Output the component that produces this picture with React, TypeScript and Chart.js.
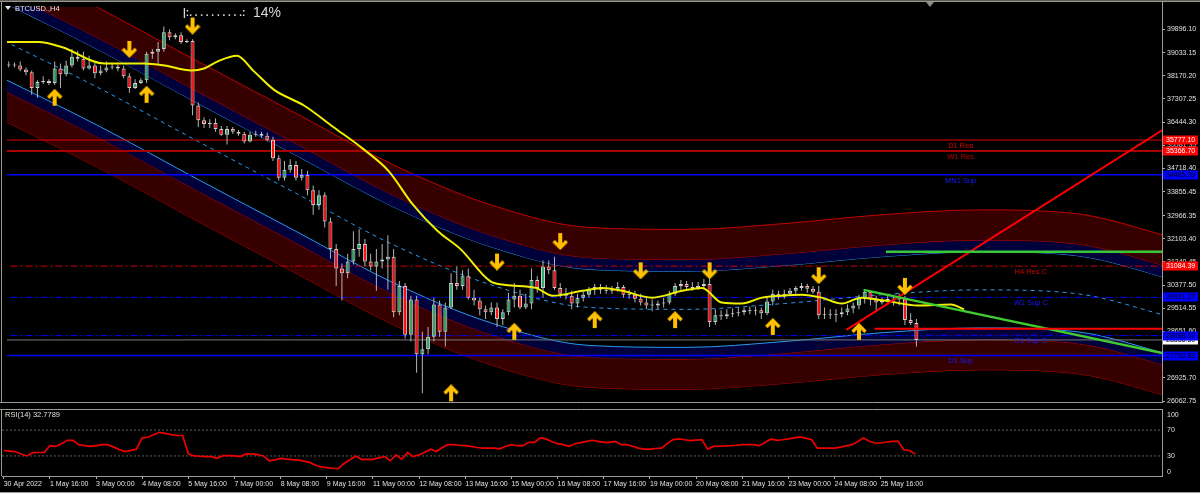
import React, { useEffect, useRef } from "react";
import { Chart, registerables } from "chart.js";

Chart.register(...registerables);

const FONT = "'Liberation Sans', Arial, sans-serif";

// ---------------- DATA ----------------
const opens = [
  38553, 38589, 38553, 38408, 38299, 37718, 37935, 37972, 37899, 38444,
  38226, 38553, 38880, 38807, 38444, 38553, 38262, 38371, 38480, 38517,
  38444, 38153, 37718, 37899, 38008, 38989, 39061, 39170, 39787, 39606,
  39678, 39424, 39461, 37064, 36519, 36374, 36411, 36193, 35975, 36193,
  36084, 36011, 35721, 35975, 36011, 35939, 35793, 35103, 34377, 34668,
  34849, 34377, 34486, 33905, 33361, 33724, 32743, 31726, 31000, 30819,
  31255, 31726, 31908, 31255, 31073, 31255, 31327, 31436, 29366, 30347,
  28531, 29838, 27805, 27987, 28459, 29657, 28640, 29548, 30456, 30347,
  30710, 29911, 29802, 29475, 29366, 29548, 29112, 29366, 29838, 29983,
  29548, 29693, 30565, 30274, 31073, 30928, 30274, 30056, 29983, 29693,
  29911, 30020, 30201, 30310, 30201, 30165, 30201, 30310, 30020, 30020,
  29874, 29729, 29620, 29620, 29693, 29729, 30056, 30347, 30419, 30310,
  30274, 30347, 30419, 29003, 29257, 29221, 29294, 29330, 29366, 29439,
  29403, 29439, 29330, 29766, 30056, 29947, 30056, 30165, 30274, 30347,
  30238, 30129, 29257, 29294, 29257, 29294, 29366, 29511, 29620, 29911,
  30129, 29838, 29729, 29802, 29874, 29838, 29874, 29076, 28967,
];
const highs = [
  38698, 38662, 38698, 38480, 38371, 38008, 38153, 38044, 38698, 38625,
  38734, 39170, 39098, 39061, 38916, 38698, 38553, 38698, 38625, 38589,
  38553, 38262, 38044, 38081, 39061, 39170, 39424, 40005, 39896, 39751,
  39787, 39533, 39533, 37173, 36628, 36556, 36592, 36302, 36302, 36265,
  36156, 36084, 36084, 36120, 36084, 36048, 35902, 35212, 34994, 35067,
  34994, 34704, 34631, 34087, 33905, 33832, 32888, 31908, 31182, 31545,
  32380, 32453, 32090, 31545, 31726, 31908, 32235, 31726, 30528, 30456,
  29983, 29983, 28640, 28822, 29911, 29802, 29729, 30819, 31073, 30928,
  31000, 30201, 29911, 29620, 29729, 29729, 29475, 30092, 30456, 30201,
  30056, 31000, 30710, 31291, 31291, 31436, 30456, 30274, 30165, 30056,
  30129, 30310, 30419, 30419, 30383, 30347, 30492, 30383, 30201, 30165,
  30056, 29911, 29838, 29802, 29911, 30165, 30456, 30565, 30528, 30492,
  30492, 30601, 30637, 29475, 29439, 29475, 29511, 29548, 29548, 29584,
  29584, 29548, 29911, 30201, 30165, 30201, 30274, 30347, 30456, 30419,
  30347, 30347, 29548, 29475, 29475, 29548, 29657, 29729, 30020, 30201,
  30165, 29983, 29911, 29983, 30020, 30056, 29983, 29330, 29112,
];
const lows = [
  38480, 38480, 38335, 38190, 37463, 37354, 37863, 37827, 37827, 37718,
  38153, 38480, 38698, 38371, 38408, 38081, 38190, 38299, 38408, 38335,
  38081, 37536, 37681, 37863, 37899, 38807, 38625, 39061, 39497, 39533,
  39352, 39388, 36701, 36265, 36229, 36229, 36084, 35939, 35612, 36011,
  35939, 35648, 35684, 35902, 35866, 35721, 34994, 34268, 34268, 34559,
  34268, 34268, 33724, 32997, 33179, 32525, 31363, 30347, 29802, 30637,
  31146, 31436, 31073, 30928, 30165, 31000, 30201, 29185, 29257, 28386,
  28277, 27115, 26351, 27805, 28277, 28459, 28096, 29475, 30201, 30201,
  29838, 29620, 29257, 29112, 29257, 28822, 28894, 29257, 29548, 29475,
  29475, 29475, 30092, 29911, 30782, 30201, 29911, 29838, 29475, 29548,
  29766, 29911, 30020, 30056, 30056, 30056, 30129, 29911, 29874, 29729,
  29620, 29475, 29403, 29475, 29548, 29657, 29983, 30201, 30201, 30165,
  30201, 30274, 28822, 28894, 29076, 29112, 29185, 29221, 29257, 29294,
  29257, 29112, 29257, 29620, 29838, 29874, 29983, 30056, 30165, 30092,
  30056, 29112, 29112, 29112, 29003, 29185, 29257, 29330, 29475, 29693,
  29620, 29439, 29657, 29729, 29620, 29620, 28894, 28894, 28096,
];
const closes = [
  38589, 38553, 38408, 38299, 37718, 37935, 37972, 37899, 38444, 38226,
  38553, 38880, 38807, 38444, 38553, 38262, 38371, 38480, 38517, 38444,
  38153, 37718, 37899, 38008, 38989, 39061, 39170, 39787, 39606, 39678,
  39424, 39461, 37064, 36519, 36374, 36411, 36193, 35975, 36193, 36084,
  36011, 35721, 35975, 36011, 35939, 35793, 35103, 34377, 34668, 34849,
  34377, 34486, 33905, 33361, 33724, 32743, 31726, 31000, 30819, 31255,
  31726, 31908, 31255, 31073, 31255, 31327, 31436, 29366, 30347, 28531,
  29838, 27805, 27987, 28459, 29657, 28640, 29548, 30456, 30347, 30710,
  29911, 29802, 29475, 29366, 29548, 29112, 29366, 29838, 29983, 29548,
  29693, 30565, 30274, 31073, 30928, 30274, 30056, 29983, 29693, 29911,
  30020, 30201, 30310, 30201, 30165, 30201, 30310, 30020, 30020, 29874,
  29729, 29620, 29620, 29693, 29729, 30056, 30347, 30419, 30310, 30274,
  30347, 30419, 29003, 29257, 29221, 29294, 29330, 29366, 29439, 29403,
  29439, 29330, 29766, 30056, 29947, 30056, 30165, 30274, 30347, 30238,
  30129, 29257, 29294, 29257, 29294, 29366, 29511, 29620, 29911, 30129,
  29838, 29729, 29802, 29874, 29838, 29874, 29076, 28967, 28336.5,
];
const rsiValues = [
  38.4, 37.5, 36.8, 33, 30, 35, 35.3, 35.3, 45.8, 44.7,
  49, 54.2, 54.2, 47.4, 46, 44.7, 46, 47.4, 47.4, 44,
  40, 36.8, 38.5, 40.5, 57.9, 58.9, 63, 66.5, 65, 63,
  61.6, 61.6, 33.2, 30, 29.5, 29, 29, 26.3, 30.5, 30.5,
  30, 29, 33.2, 33.2, 32, 30, 22.6, 24, 26.3, 25,
  24.2, 23.9, 22, 20, 16, 13, 12, 11, 10.5, 18.4,
  24, 30, 24.7, 24.7, 24.7, 27, 28.9, 22.6, 31.6, 24.7,
  35.3, 28.9, 31.6, 36, 40.5, 36.8, 43, 47.4, 47.4, 46.5,
  45.8, 44.7, 43, 42.1, 42.1, 42.1, 41.1, 45, 47.4, 45.8,
  45.8, 51.1, 51.1, 57.9, 56.3, 52, 48.9, 47.4, 44.7, 48.9,
  50.5, 52.6, 54.2, 52.6, 51.1, 51.1, 52.6, 47.4, 47.4, 45,
  42.1, 40.5, 40.5, 41.5, 42.1, 49, 55.3, 56.3, 55, 53.7,
  54.5, 55.3, 40.5, 44.7, 45, 45.5, 45.8, 46.5, 47.4, 47.4,
  47.4, 45.8, 51, 56.3, 54.2, 55, 56.3, 58, 59.5, 57.5,
  55.3, 42.1, 42.1, 42.1, 42.1, 43.5, 45.5, 47.4, 52, 57.9,
  52.6, 50, 50, 51.5, 52.6, 52.6, 39.5, 38.4, 32.78,
];
const rsiCaption = "RSI(14) 32.7789";

const timeLabelIdx = [0, 8, 16, 24, 32, 40, 48, 56, 64, 72, 80, 88, 96, 104, 112, 120, 128, 136, 144, 152];
const timeLabels = [
  "30 Apr 2022", "1 May 16:00", "3 May 00:00", "4 May 08:00", "5 May 16:00", "7 May 00:00",
  "8 May 08:00", "9 May 16:00", "11 May 00:00", "12 May 08:00", "13 May 16:00", "15 May 00:00",
  "16 May 08:00", "17 May 16:00", "19 May 00:00", "20 May 08:00", "21 May 16:00", "23 May 00:00",
  "24 May 08:00", "25 May 16:00",
];
const priceTicks = [
  39896.1, 39033.15, 38170.2, 37307.25, 36444.3, 35581.35, 34718.4, 33855.45, 32966.35,
  32103.4, 31240.45, 30377.5, 29514.55, 28651.6, 27788.65, 26925.7, 26062.75,
];
const rsiTicks = [100, 70, 30, 0];
const rsiLevels = [70, 30];

// regression channel: centre line samples and band half-widths
const channelIdx = [-2, 16, 33, 50, 67, 84, 101, 118, 135, 152, 169, 186, 203];
const channelMid = [39600, 37681, 35721, 33796, 31872, 30383, 29548, 29475, 29693, 30020, 30201, 30056, 29150];
const channelOffsets = [2977, 1852, 1416];

// yellow moving average
const maIdx = [-0.6, 5.1, 9.2, 16.7, 23.6, 27.1, 31.8, 34, 36.3, 39.7, 42.7, 46.2, 51.4, 56.5, 61.8, 66.1, 70.4, 74.7, 78.6, 83.8, 86.5, 91.7, 94.7, 99.9, 103.4, 106.8, 112, 117.2, 120.7, 124.1, 127.6, 131.1, 134.5, 138, 141.5, 145, 148.4, 152.4, 158.3, 164, 166.3];
const maVal = [39424, 39424, 39243, 38625, 38625, 38553, 38371, 38444, 38698, 38916, 38335, 37645, 37064, 36265, 35430, 34631, 33361, 32380, 31726, 30528, 30383, 30274, 29983, 30165, 30274, 30165, 29911, 30165, 30274, 29729, 29693, 29911, 29983, 30020, 29911, 29693, 29911, 29802, 29620, 29657, 29475];

// arrows
const upArrowIdx = [8, 24, 77, 88, 102, 116, 133, 148];
const upArrowPrice = [37354, 37463, 26351, 28640, 29076, 29076, 28822, 28640];
const downArrowIdx = [21, 32, 85, 96, 110, 122, 141, 156];
const downArrowPrice = [39170, 40042, 31255, 32017, 30928, 30928, 30745, 30347];

// support / resistance levels
const levelNames = ["D1 Res", "W1 Res", "MN1 Sup", "H4 Res C", "W1 Sup C", "D1 Sup C", "D1 Sup"];
const levelPrices = [35777.1, 35366.7, 34485.99, 31084.39, 29921.27, 28498.37, 27753.83];
const levelLabelIdx = [165.7, 165.7, 165.7, 177.9, 177.9, 177.9, 165.7];
const bidPrice = 28336.5;

// price tags on the axis
const tagPrices = [35777.1, 35366.7, 34485.99, 31084.39, 29921.27, 28336.5, 28498.37, 27753.83];

// trend lines
const greenHLine = { from: 152.7, to: 201, price: 31618 };
const redHLine = { from: 150.7, to: 201, price: 28749 };
const greenTrend = { x1: 148.8, p1: 30201, x2: 201, p2: 27841 };
const redTrend = { x1: 145.8, p1: 28713, x2: 200.9, p2: 36156 };

// ---------------- SCALE SETUP ----------------
const X_MIN = -0.3;
const X_MAX = 200.75;
const P_MIN = 26025.7;
const P_MAX = 40731.2;

const RED_LINE = "#c00000";
const DARK_RED = "#360000";
const NAVY = "#00003a";
const LIGHT_BLUE = "#2a98ee";

function makeArrow(up: boolean): HTMLCanvasElement {
  const c = document.createElement("canvas");
  c.width = 16;
  c.height = 18;
  const g = c.getContext("2d")!;
  g.save();
  if (up) {
    g.translate(0, 18);
    g.scale(1, -1);
  }
  g.fillStyle = "#ffc000";
  g.strokeStyle = "#ffc000";
  g.fillRect(6, 1, 4, 13);
  g.lineWidth = 3.4;
  g.lineCap = "butt";
  g.lineJoin = "miter";
  g.beginPath();
  g.moveTo(1.5, 9);
  g.lineTo(8, 15.5);
  g.lineTo(14.5, 9);
  g.stroke();
  g.restore();
  return c;
}

function hline(price: number, from = X_MIN - 2, to = X_MAX + 2) {
  return [
    { x: from, y: price },
    { x: to, y: price },
  ];
}

export default function App() {
  const priceRef = useRef<HTMLCanvasElement>(null);
  const rsiRef = useRef<HTMLCanvasElement>(null);

  useEffect(() => {
    const upImg = makeArrow(true);
    const downImg = makeArrow(false);

    const bandSpecs = [
      { off: channelOffsets[0], color: RED_LINE, fill: "+1", bg: DARK_RED, dash: [] as number[] },
      { off: channelOffsets[1], color: RED_LINE, fill: "+1", bg: NAVY, dash: [] },
      { off: channelOffsets[2], color: LIGHT_BLUE, fill: false, bg: "transparent", dash: [] },
      { off: 0, color: LIGHT_BLUE, fill: false, bg: "transparent", dash: [4, 4] },
      { off: -channelOffsets[2], color: LIGHT_BLUE, fill: "+1", bg: NAVY, dash: [] },
      { off: -channelOffsets[1], color: RED_LINE, fill: "+1", bg: DARK_RED, dash: [] },
      { off: -channelOffsets[0], color: RED_LINE, fill: false, bg: "transparent", dash: [] },
    ];
    const bandDatasets = bandSpecs.map((b) => ({
      type: "line",
      data: channelIdx.map((x, k) => ({ x, y: channelMid[k] + b.off })),
      borderColor: b.color,
      borderWidth: 1,
      borderDash: b.dash,
      backgroundColor: b.bg,
      fill: b.fill,
      pointRadius: 0,
      cubicInterpolationMode: "monotone",
      order: 20,
    }));

    const levelStyles = [
      { color: "#e00000", width: 1, dash: [] as number[] },
      { color: "#a80000", width: 2, dash: [] },
      { color: "#0000ff", width: 1.5, dash: [] },
      { color: "#d00000", width: 1, dash: [7, 3, 2, 3] },
      { color: "#0000ff", width: 1, dash: [7, 3, 2, 3] },
      { color: "#0000ff", width: 1, dash: [7, 3, 2, 3] },
      { color: "#0000ff", width: 1.5, dash: [] },
    ];
    const levelDatasets = levelPrices.map((p, k) => ({
      type: "line",
      data: hline(p),
      borderColor: levelStyles[k].color,
      borderWidth: levelStyles[k].width,
      borderDash: levelStyles[k].dash,
      pointRadius: 0,
      fill: false,
      order: 15,
    }));

    const idx = closes.map((_, i) => i);
    const bodyColors = idx.map((i) => (closes[i] >= opens[i] ? "#34a86a" : "#ff1010"));

    const datasets: any[] = [
      ...bandDatasets,
      ...levelDatasets,
      {
        type: "line",
        data: hline(bidPrice),
        borderColor: "#787878",
        borderWidth: 1,
        pointRadius: 0,
        order: 14,
      },
      {
        type: "bar",
        data: idx.map((i) => ({ x: i, y: [lows[i], highs[i]] })),
        backgroundColor: "#b4b4b4",
        borderWidth: 0,
        grouped: false,
        maxBarThickness: 1,
        order: 6,
      },
      {
        type: "bar",
        data: idx.map((i) => ({ x: i, y: [opens[i], closes[i]] })),
        backgroundColor: bodyColors,
        borderColor: "#cfcfcf",
        borderWidth: 1,
        borderSkipped: false,
        grouped: false,
        maxBarThickness: 4,
        minBarLength: 1,
        order: 5,
      },
      {
        type: "line",
        data: maIdx.map((x, k) => ({ x, y: maVal[k] })),
        borderColor: "#f0f000",
        borderWidth: 2,
        pointRadius: 0,
        cubicInterpolationMode: "monotone",
        order: 4,
      },
      {
        type: "line",
        data: hline(greenHLine.price, greenHLine.from, greenHLine.to),
        borderColor: "#38c838",
        borderWidth: 2.5,
        pointRadius: 0,
        order: 3,
      },
      {
        type: "line",
        data: hline(redHLine.price, redHLine.from, redHLine.to),
        borderColor: "#ff0000",
        borderWidth: 2,
        pointRadius: 0,
        order: 3,
      },
      {
        type: "line",
        data: [
          { x: greenTrend.x1, y: greenTrend.p1 },
          { x: greenTrend.x2, y: greenTrend.p2 },
        ],
        borderColor: "#40cc30",
        borderWidth: 2.5,
        pointRadius: 0,
        order: 3,
      },
      {
        type: "line",
        data: [
          { x: redTrend.x1, y: redTrend.p1 },
          { x: redTrend.x2, y: redTrend.p2 },
        ],
        borderColor: "#ff0000",
        borderWidth: 2,
        pointRadius: 0,
        order: 3,
      },
      {
        type: "line",
        data: upArrowIdx.map((x, k) => ({ x, y: upArrowPrice[k] })),
        showLine: false,
        pointStyle: upImg,
        pointRadius: 6,
        order: 1,
      },
      {
        type: "line",
        data: downArrowIdx.map((x, k) => ({ x, y: downArrowPrice[k] })),
        showLine: false,
        pointStyle: downImg,
        pointRadius: 6,
        order: 1,
      },
    ];

    const levelTextColors = ["#e00000", "#c00000", "#1a1aff", "#d00000", "#1a1aff", "#1a1aff", "#1a1aff"];
    const tagFill = ["#ff0000", "#ff0000", "#0000ff", "#ff0000", "#0000ff", "#ffffff", "#0000ff", "#0000ff"];
    const tagText = ["#ffffff", "#ffffff", "#000000", "#ffffff", "#000000", "#000000", "#000000", "#000000"];

    const priceOverlay = {
      id: "priceOverlay",
      afterDatasetsDraw(chart: any) {
        const { ctx, scales } = chart;
        const x = scales.x;
        const y = scales.y;
        ctx.save();
        ctx.font = `7.5px ${FONT}`;
        ctx.textAlign = "center";
        ctx.textBaseline = "top";
        levelNames.forEach((name, k) => {
          ctx.fillStyle = levelTextColors[k];
          ctx.fillText(name, x.getPixelForValue(levelLabelIdx[k]), y.getPixelForValue(levelPrices[k]) + 2);
        });
        ctx.restore();
      },
      afterDraw(chart: any) {
        const { ctx, chartArea, scales } = chart;
        const y = scales.y;
        ctx.save();
        ctx.lineWidth = 1;
        ctx.strokeStyle = "#5c5c54";
        ctx.beginPath();
        ctx.moveTo(0, 0.5);
        ctx.lineTo(1200, 0.5);
        ctx.stroke();
        ctx.strokeStyle = "#9a9a90";
        ctx.beginPath();
        ctx.moveTo(0, 1.5);
        ctx.lineTo(1200, 1.5);
        ctx.moveTo(1.5, 1);
        ctx.lineTo(1.5, chartArea.bottom);
        ctx.moveTo(0, chartArea.bottom + 0.5);
        ctx.lineTo(chartArea.right + 1, chartArea.bottom + 0.5);
        ctx.moveTo(chartArea.right + 0.5, 1);
        ctx.lineTo(chartArea.right + 0.5, chartArea.bottom + 1);
        ctx.stroke();
        ctx.font = `7px ${FONT}`;
        ctx.textAlign = "left";
        ctx.textBaseline = "middle";
        tagPrices.forEach((p, k) => {
          const py = Math.round(y.getPixelForValue(p));
          ctx.fillStyle = tagFill[k];
          ctx.fillRect(chartArea.right + 1, py - 4.5, 35, 9);
          ctx.fillStyle = tagText[k];
          ctx.fillText(p.toFixed(2), chartArea.right + 4, py + 0.5);
        });
        ctx.fillStyle = "#e8e8e8";
        ctx.beginPath();
        ctx.moveTo(5, 6);
        ctx.lineTo(11, 6);
        ctx.lineTo(8, 10);
        ctx.closePath();
        ctx.fill();
        ctx.font = `7.5px ${FONT}`;
        ctx.textBaseline = "middle";
        ctx.fillText("BTCUSD.,H4", 15, 8.5);
        ctx.fillStyle = "#d8d8d8";
        ctx.font = `bold 10px ${FONT}`;
        ctx.fillText("|:. . . . . . . . . .:", 183, 13);
        ctx.font = `14px ${FONT}`;
        ctx.fillText("14%", 253, 13);
        ctx.fillStyle = "#8a8a8a";
        ctx.beginPath();
        ctx.moveTo(926, 2);
        ctx.lineTo(934, 2);
        ctx.lineTo(930, 7);
        ctx.closePath();
        ctx.fill();
        ctx.restore();
      },
    };

    const priceChart = new Chart(priceRef.current as HTMLCanvasElement, {
      type: "line",
      data: { datasets },
      options: {
        animation: false,
        responsive: false,
        maintainAspectRatio: false,
        events: [],
        layout: { padding: { left: 2, top: 2, right: 0, bottom: 2 } },
        plugins: { legend: { display: false }, tooltip: { enabled: false } },
        scales: {
          x: { type: "linear", min: X_MIN, max: X_MAX, offset: false, display: false },
          y: {
            type: "linear",
            position: "right",
            min: P_MIN,
            max: P_MAX,
            afterFit: (s: any) => {
              s.width = 38;
              s.paddingTop = 0;
              s.paddingBottom = 0;
            },
            afterBuildTicks: (s: any) => {
              s.ticks = priceTicks.map((v) => ({ value: v }));
            },
            ticks: {
              color: "#e0e0e0",
              font: { family: FONT, size: 7 },
              padding: 2,
              autoSkip: false,
              callback: (v: any) => Number(v).toFixed(2),
            },
            grid: { drawOnChartArea: false, drawTicks: true, tickLength: 3, tickColor: "#b0b0b0" },
            border: { display: true, color: "#9a9a90" },
          },
        },
      } as any,
      plugins: [priceOverlay],
    } as any);

    const rsiOverlay = {
      id: "rsiOverlay",
      afterDraw(chart: any) {
        const { ctx, chartArea, scales } = chart;
        const y = scales.y;
        ctx.save();
        ctx.strokeStyle = "#9a9a90";
        ctx.lineWidth = 1;
        ctx.beginPath();
        ctx.moveTo(0, chartArea.top - 0.5);
        ctx.lineTo(chartArea.right + 1, chartArea.top - 0.5);
        ctx.moveTo(1.5, chartArea.top);
        ctx.lineTo(1.5, chartArea.bottom);
        ctx.moveTo(0, 83.5);
        ctx.lineTo(1200, 83.5);
        ctx.stroke();
        ctx.fillStyle = "#e0e0e0";
        ctx.font = `7px ${FONT}`;
        ctx.textAlign = "left";
        ctx.textBaseline = "middle";
        rsiTicks.forEach((v) => {
          let py = y.getPixelForValue(v);
          py = Math.max(chartArea.top + 5, Math.min(chartArea.bottom - 4, py));
          ctx.fillText(String(v), chartArea.right + 5, py);
        });
        ctx.font = `7.5px ${FONT}`;
        ctx.fillText(rsiCaption, 5, chartArea.top + 5);
        ctx.restore();
      },
    };

    const rsiChart = new Chart(rsiRef.current as HTMLCanvasElement, {
      type: "line",
      data: {
        datasets: [
          {
            data: rsiValues.map((v, i) => ({ x: i, y: v })),
            borderColor: "#ee0000",
            borderWidth: 1.7,
            pointRadius: 0,
            tension: 0,
            order: 1,
          },
          ...rsiLevels.map((lv) => ({
            data: hline(lv),
            borderColor: "#c8c8b0",
            borderWidth: 1,
            borderDash: [1, 3],
            pointRadius: 0,
            order: 2,
          })),
        ],
      },
      options: {
        animation: false,
        responsive: false,
        maintainAspectRatio: false,
        events: [],
        layout: { padding: { left: 2, top: 1, right: 0, bottom: 0 } },
        plugins: { legend: { display: false }, tooltip: { enabled: false } },
        scales: {
          x: {
            type: "linear",
            min: X_MIN,
            max: X_MAX,
            offset: false,
            position: "bottom",
            afterFit: (s: any) => {
              s.height = 17;
              s.paddingLeft = 0;
              s.paddingRight = 0;
            },
            afterBuildTicks: (s: any) => {
              s.ticks = timeLabelIdx.map((v) => ({ value: v }));
            },
            ticks: {
              color: "#e0e0e0",
              font: { family: FONT, size: 7 },
              align: "start",
              maxRotation: 0,
              minRotation: 0,
              autoSkip: false,
              padding: 1,
              callback: (v: any) => {
                const k = timeLabelIdx.indexOf(Number(v));
                return k >= 0 ? timeLabels[k] : "";
              },
            },
            grid: { drawOnChartArea: false, drawTicks: true, tickLength: 3, tickColor: "#b0b0b0" },
            border: { display: true, color: "#9a9a90" },
          },
          y: {
            type: "linear",
            position: "right",
            min: -1,
            max: 101,
            afterFit: (s: any) => {
              s.width = 38;
              s.paddingTop = 0;
              s.paddingBottom = 0;
            },
            afterBuildTicks: (s: any) => {
              s.ticks = rsiTicks.map((v) => ({ value: v }));
            },
            ticks: { display: false },
            grid: { drawOnChartArea: false, drawTicks: false },
            border: { display: true, color: "#9a9a90" },
          },
        },
      } as any,
      plugins: [rsiOverlay],
    } as any);

    return () => {
      priceChart.destroy();
      rsiChart.destroy();
    };
  }, []);

  return (
    <div
      style={{
        position: "fixed",
        left: 0,
        top: 0,
        width: 1200,
        height: 493,
        background: "#000",
        overflow: "hidden",
      }}
    >
      <canvas
        ref={priceRef}
        width={1200}
        height={409}
        style={{ position: "absolute", left: 0, top: 0, width: 1200, height: 409 }}
      />
      <canvas
        ref={rsiRef}
        width={1200}
        height={84}
        style={{ position: "absolute", left: 0, top: 409, width: 1200, height: 84 }}
      />
    </div>
  );
}
